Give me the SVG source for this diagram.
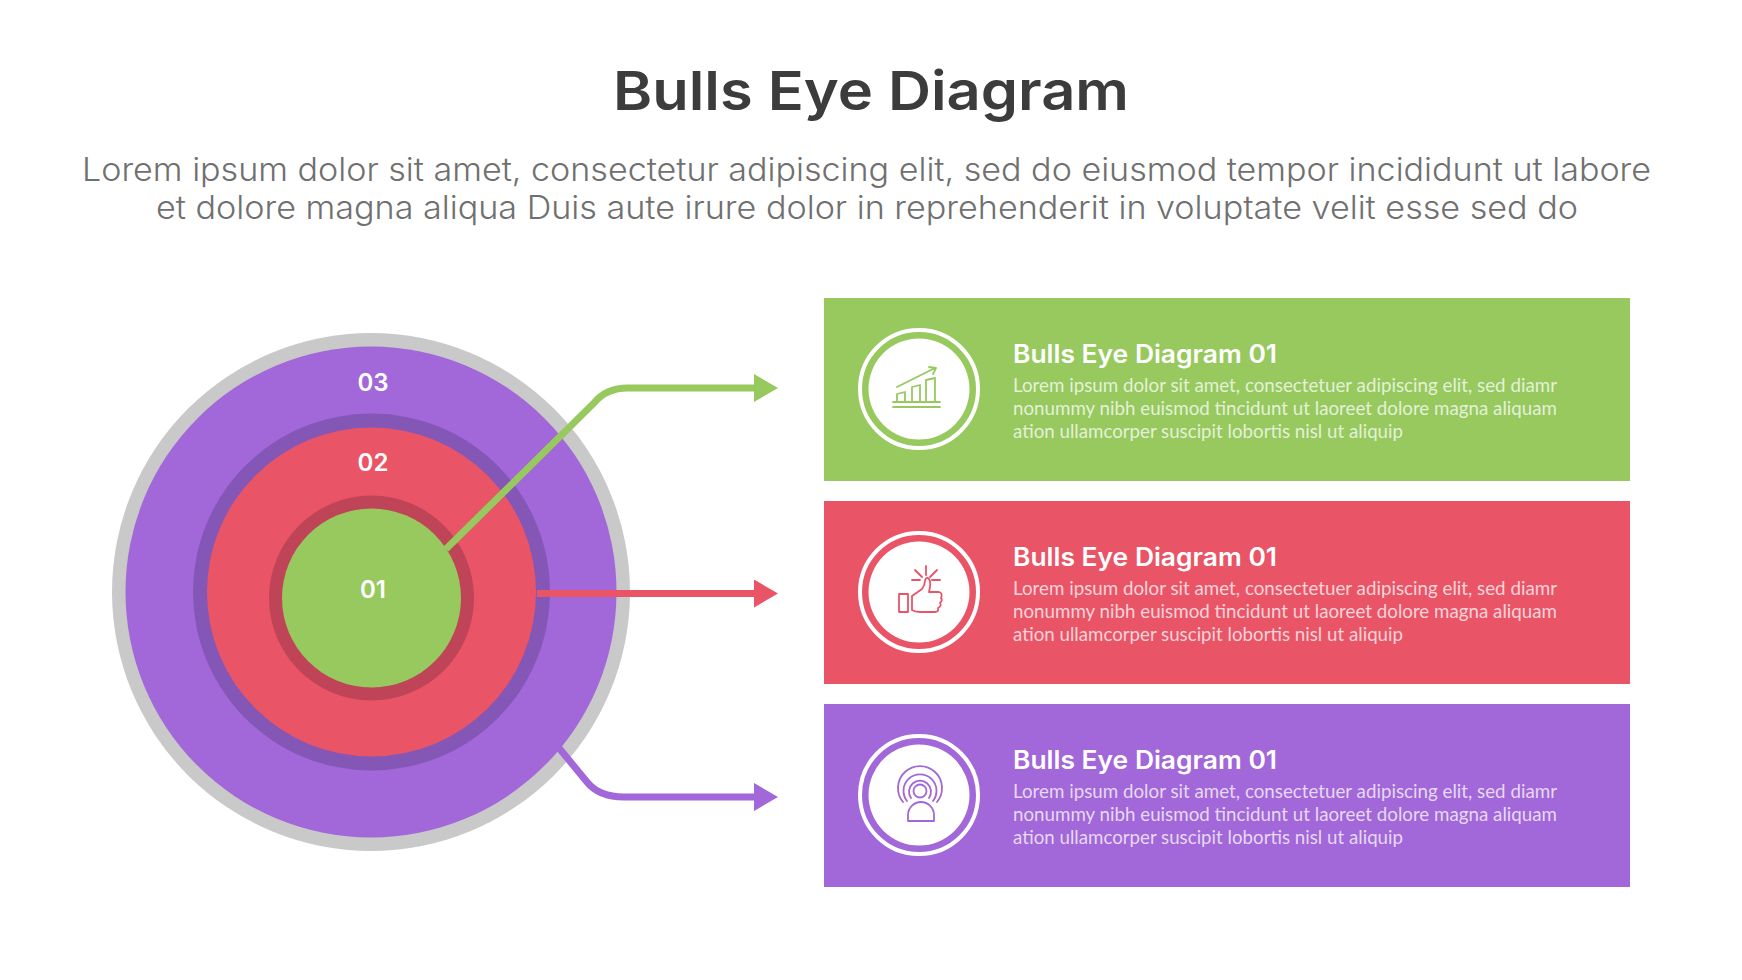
<svg xmlns="http://www.w3.org/2000/svg" width="1742" height="980" viewBox="0 0 1742 980">
<defs>
<style>
.title{font-family:"Inter","Open Sans","Liberation Sans",sans-serif;font-weight:600;font-size:54px;fill:#3c3c3c;text-anchor:middle}
.sub{font-family:"Inter","Open Sans","Liberation Sans",sans-serif;font-weight:300;font-size:32px;fill:#707070}
.num{font-family:"Inter","Open Sans","Liberation Sans",sans-serif;font-weight:600;font-size:24px;fill:#fff;text-anchor:middle}
.ct{font-family:"Inter","Open Sans","Liberation Sans",sans-serif;font-weight:600;font-size:25px;fill:#fff}
.cb{font-family:"Lato","Open Sans","Liberation Sans",sans-serif;font-weight:400;font-size:19px;fill:#fff;fill-opacity:.75}
.ring{fill:none;stroke:#fff;stroke-width:4}
.disc{fill:#fff}
.ico{fill:none;stroke-width:1.8;stroke-linecap:round;stroke-linejoin:round}
.ln{fill:none;stroke-width:7}
</style>
<marker id="ag" markerUnits="userSpaceOnUse" markerWidth="24" markerHeight="28" refX="0" refY="14" orient="auto"><path d="M0 0L24 14L0 28Z" fill="#97c95f"/></marker>
<marker id="ar" markerUnits="userSpaceOnUse" markerWidth="24" markerHeight="28" refX="0" refY="14" orient="auto"><path d="M0 0L24 14L0 28Z" fill="#ea5467"/></marker>
<marker id="ap" markerUnits="userSpaceOnUse" markerWidth="24" markerHeight="28" refX="0" refY="14" orient="auto"><path d="M0 0L24 14L0 28Z" fill="#a267d8"/></marker>
</defs>
<rect width="1742" height="980" fill="#fff"/>
<text class="title" x="871" y="110" textLength="516" lengthAdjust="spacingAndGlyphs">Bulls Eye Diagram</text>
<text class="sub" x="82" y="181" textLength="1569" lengthAdjust="spacingAndGlyphs">Lorem ipsum dolor sit amet, consectetur adipiscing elit, sed do eiusmod tempor incididunt ut labore</text>
<text class="sub" x="156" y="219" textLength="1422" lengthAdjust="spacingAndGlyphs">et dolore magna aliqua Duis aute irure dolor in reprehenderit in voluptate velit esse sed do</text>

<g id="ring-03"><circle cx="371" cy="592" r="259" fill="#c9c9c9"/><circle cx="371" cy="592" r="245.500" fill="#a267d8"/><text class="num" x="373" y="391">03</text></g>
<g id="ring-02"><circle cx="371.500" cy="592" r="178.500" fill="#8456b5"/><circle cx="371.500" cy="592" r="164.500" fill="#ea5467"/><text class="num" x="373" y="471">02</text></g>
<g id="ring-01"><circle cx="371.500" cy="598" r="102.500" fill="#c04457"/><circle cx="371.500" cy="598" r="89.500" fill="#97c95f"/><text class="num" x="373" y="598">01</text></g>

<g id="connectors">
<path class="ln" stroke="#97c95f" d="M446 549L594 403Q606 388 628 388L754 388" marker-end="url(#ag)"/>
<path class="ln" stroke="#ea5467" d="M537 593.500L754 593.500" marker-end="url(#ar)"/>
<path class="ln" stroke="#a267d8" d="M559 748L587 782Q599 797 624 797L754 797" marker-end="url(#ap)"/>
</g>

<g id="card-1"><rect x="824" y="298" width="806" height="183" fill="#97c95f"/>
<circle class="ring" cx="919" cy="389" r="59"/><circle class="disc" cx="919" cy="389" r="50.500"/>
<g class="ico" stroke="#97c95f"><path d="M897 402V394L905 392V402M912 402V387L920 385V402M926 402V380L935 378V402"/><path d="M897 387L935 368M929 367L936 368L933 374"/><path d="M893 402H940M893 407H940"/></g>
<text class="ct" x="1013" y="363" textLength="264" lengthAdjust="spacingAndGlyphs">Bulls Eye Diagram 01</text>
<text class="cb" x="1013" y="392" textLength="544" lengthAdjust="spacingAndGlyphs">Lorem ipsum dolor sit amet, consectetuer adipiscing elit, sed diamr</text>
<text class="cb" x="1013" y="415" textLength="544" lengthAdjust="spacingAndGlyphs">nonummy nibh euismod tincidunt ut laoreet dolore magna aliquam</text>
<text class="cb" x="1013" y="438" textLength="390" lengthAdjust="spacingAndGlyphs">ation ullamcorper suscipit lobortis nisl ut aliquip</text></g>

<g id="card-2"><rect x="824" y="501" width="806" height="183" fill="#ea5467"/>
<circle class="ring" cx="919" cy="592" r="59"/><circle class="disc" cx="919" cy="592" r="50.500"/>
<g class="ico" stroke="#ea5467"><rect x="899" y="594" width="9" height="18"/><path d="M912 596L922 589Q925 585 925 581Q926 577 928 578Q931 580 930 587L929 592H939Q943 593 941 598Q943 600 940 603Q942 606 938 608Q939 612 935 612H920Q915 612 912 610Z"/><path d="M926 566V575M915 570L922 577M912 580H920M937 570L930 577M932 580H940"/></g>
<text class="ct" x="1013" y="566" textLength="264" lengthAdjust="spacingAndGlyphs">Bulls Eye Diagram 01</text>
<text class="cb" x="1013" y="595" textLength="544" lengthAdjust="spacingAndGlyphs">Lorem ipsum dolor sit amet, consectetuer adipiscing elit, sed diamr</text>
<text class="cb" x="1013" y="618" textLength="544" lengthAdjust="spacingAndGlyphs">nonummy nibh euismod tincidunt ut laoreet dolore magna aliquam</text>
<text class="cb" x="1013" y="641" textLength="390" lengthAdjust="spacingAndGlyphs">ation ullamcorper suscipit lobortis nisl ut aliquip</text></g>

<g id="card-3"><rect x="824" y="704" width="806" height="183" fill="#a267d8"/>
<circle class="ring" cx="919" cy="795" r="59"/><circle class="disc" cx="919" cy="795" r="50.500"/>
<g class="ico" stroke="#a267d8"><circle cx="920" cy="791" r="6.500"/><path d="M911 798A11 11 0 1 1 929 798M907 801A16.500 16.500 0 1 1 933 801M903 802A22 22 0 1 1 937 802"/><path d="M908 821V815A13 13 0 0 1 934 815V821Z"/></g>
<text class="ct" x="1013" y="769" textLength="264" lengthAdjust="spacingAndGlyphs">Bulls Eye Diagram 01</text>
<text class="cb" x="1013" y="798" textLength="544" lengthAdjust="spacingAndGlyphs">Lorem ipsum dolor sit amet, consectetuer adipiscing elit, sed diamr</text>
<text class="cb" x="1013" y="821" textLength="544" lengthAdjust="spacingAndGlyphs">nonummy nibh euismod tincidunt ut laoreet dolore magna aliquam</text>
<text class="cb" x="1013" y="844" textLength="390" lengthAdjust="spacingAndGlyphs">ation ullamcorper suscipit lobortis nisl ut aliquip</text></g>
</svg>
